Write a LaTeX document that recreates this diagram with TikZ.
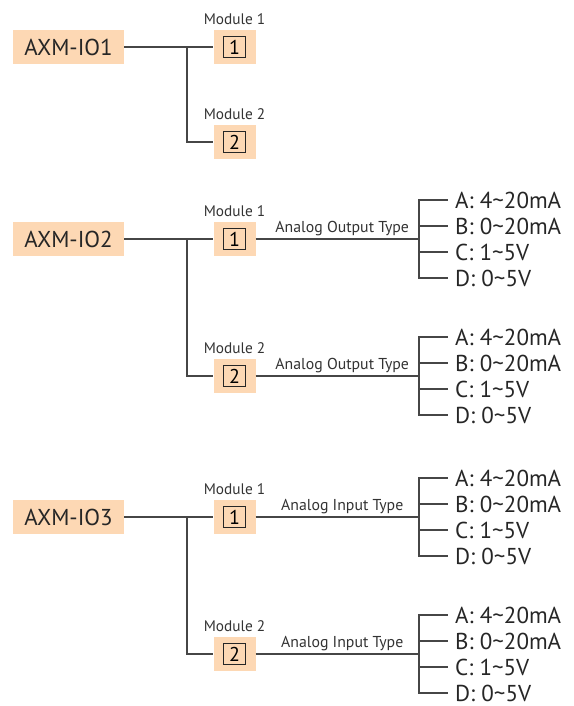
\documentclass[tikz,border=0pt]{standalone}
\usepackage{fontspec}
\setmainfont{PT Sans}
\usepackage{tikz}
\usetikzlibrary{positioning}
\definecolor{peach}{RGB}{253,216,180}
\definecolor{wirecol}{RGB}{70,70,70}

\begin{document}
\begin{tikzpicture}[x=1pt,y=-1pt,
        devbox/.style={fill=peach, minimum width=111pt, minimum height=34pt,
                       inner sep=0pt, text=black!85, font=\fontsize{23}{23}\selectfont},
        modbox/.style={fill=peach, minimum width=42pt, minimum height=34pt},
        digit/.style={draw=black!85, line width=0.7pt, minimum width=22pt, minimum height=21pt,
                      inner sep=0pt, font=\fontsize{20}{20}\selectfont},
        modlabel/.style={inner sep=0pt, text=black!80, font=\fontsize{15.3}{15}\selectfont},
        typelabel/.style={above, inner sep=3pt, text=black!80, font=\fontsize{15.8}{16}\selectfont},
        value/.style={anchor=west, inner xsep=7pt, inner ysep=0pt, text=black!85,
                      font=\fontsize{23}{23}\selectfont},
        wire/.style={draw=wirecol, line width=1.2pt}]
    \useasboundingbox (0,0) rectangle (573,706);

    % devices
    \node[devbox] (io1) at (68.5,47)  {AXM-IO1};
    \node[devbox] (io2) at (68.5,239) {AXM-IO2};
    \node[devbox] (io3) at (68.5,517) {AXM-IO3};

    % modules
    \foreach \dev/\mod/\yy in {io1/1/47, io1/2/142, io2/1/239, io2/2/376, io3/1/517, io3/2/654} {
        \node[modbox] (\dev m\mod) at (234.5,\yy) {};
        \node[digit] (\dev d\mod) at (\dev m\mod) {\mod};
        \node[modlabel, above=5pt of \dev m\mod] (\dev l\mod) {Module \mod};
    }

    % device to modules
    \foreach \dev in {io1,io2,io3} {
        \coordinate (\dev j) at (\dev -| 187,0);
        \draw[wire] (\dev) -- (\dev m1);
        \draw[wire] (\dev j) |- (\dev m2);
    }

    % signal types
    \foreach \dev/\mod/\yy/\kind in {io2/1/239/Output, io2/2/376/Output, io3/1/517/Input, io3/2/654/Input} {
        \coordinate (\dev b\mod) at (419,\yy);
        \draw[wire] (\dev m\mod) -- node[typelabel, pos=0.53] (\dev t\mod) {Analog \kind\ Type} (\dev b\mod);
        \foreach \v/\txt [count=\k] in {a/A: 4\textasciitilde20mA, b/B: 0\textasciitilde20mA,
                                        c/C: 1\textasciitilde5V, d/D: 0\textasciitilde5V} {
            \node[value] (\dev\mod\v) at (448,\yy-65+26*\k) {\txt};
            \draw[wire] (\dev b\mod) |- (\dev\mod\v);
        }
    }
\end{tikzpicture}
\end{document}
